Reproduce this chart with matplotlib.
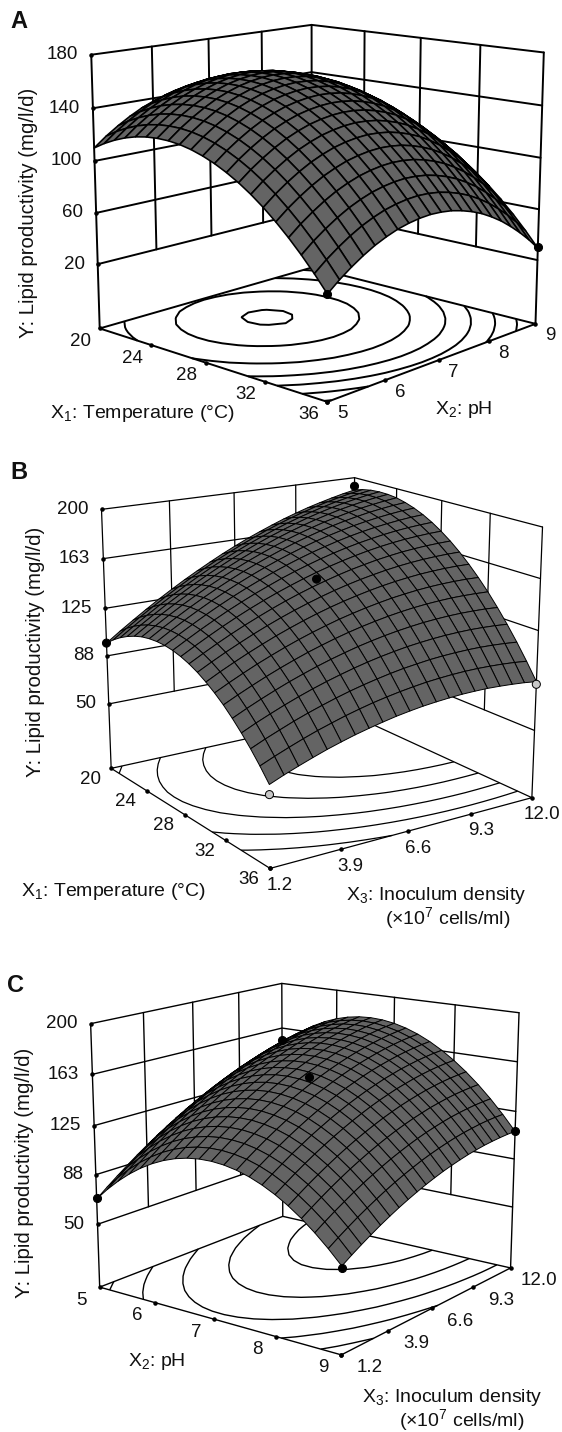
import numpy as np
import matplotlib
matplotlib.use("Agg")
import matplotlib.pyplot as plt
from mpl_toolkits.mplot3d import proj3d

plt.rcParams['font.family'] = ['Liberation Sans', 'DejaVu Sans']
plt.rcParams['mathtext.fontset'] = 'custom'
plt.rcParams['mathtext.rm'] = 'Liberation Sans'
plt.rcParams['mathtext.default'] = 'regular'

W, H = 562, 1432

temperature = np.linspace(20, 36, 21)
ph = np.linspace(5, 9, 21)
inoculum = np.linspace(1.2, 12, 21)

# superficie A: filas = pH, columnas = temperatura
z_a = [
    [109.9,114.9,119.0,122.3,124.7,126.2,126.8,126.6,125.5,123.5,120.6,116.9,112.3,106.9,100.6,93.4,85.3,76.4,66.6,55.9,44.3],
    [117.2,122.2,126.3,129.6,132.0,133.5,134.1,133.9,132.8,130.8,127.9,124.2,119.6,114.2,107.9,100.7,92.6,83.7,73.9,63.2,51.6],
    [123.5,128.5,132.6,135.9,138.3,139.8,140.4,140.2,139.1,137.1,134.2,130.5,125.9,120.5,114.2,107.0,98.9,90.0,80.2,69.5,57.9],
    [129.1,134.1,138.2,141.5,143.9,145.4,146.0,145.8,144.7,142.7,139.8,136.1,131.5,126.1,119.8,112.6,104.5,95.6,85.8,75.1,63.5],
    [133.9,138.9,143.0,146.3,148.7,150.2,150.8,150.6,149.5,147.5,144.6,140.9,136.3,130.9,124.6,117.4,109.3,100.4,90.6,79.9,68.3],
    [137.7,142.7,146.8,150.1,152.5,154.0,154.6,154.4,153.3,151.3,148.4,144.7,140.1,134.7,128.4,121.2,113.1,104.2,94.4,83.7,72.1],
    [140.8,145.8,149.9,153.2,155.6,157.1,157.7,157.5,156.4,154.4,151.5,147.8,143.2,137.8,131.5,124.3,116.2,107.3,97.5,86.8,75.2],
    [142.9,147.9,152.0,155.3,157.7,159.2,159.8,159.6,158.5,156.5,153.6,149.9,145.3,139.9,133.6,126.4,118.3,109.4,99.6,88.9,77.3],
    [144.3,149.3,153.4,156.7,159.1,160.6,161.2,161.0,159.9,157.9,155.0,151.3,146.7,141.3,135.0,127.8,119.7,110.8,101.0,90.3,78.7],
    [144.9,149.9,154.0,157.3,159.7,161.2,161.8,161.6,160.5,158.5,155.6,151.9,147.3,141.9,135.6,128.4,120.3,111.4,101.6,90.9,79.3],
    [144.5,149.5,153.6,156.9,159.3,160.8,161.4,161.2,160.1,158.1,155.2,151.5,146.9,141.5,135.2,128.0,119.9,111.0,101.2,90.5,78.9],
    [143.4,148.4,152.5,155.8,158.2,159.7,160.3,160.1,159.0,157.0,154.1,150.4,145.8,140.4,134.1,126.9,118.8,109.9,100.1,89.4,77.8],
    [141.3,146.3,150.4,153.7,156.1,157.6,158.2,158.0,156.9,154.9,152.0,148.3,143.7,138.3,132.0,124.8,116.7,107.8,98.0,87.3,75.7],
    [138.5,143.5,147.6,150.9,153.3,154.8,155.4,155.2,154.1,152.1,149.2,145.5,140.9,135.5,129.2,122.0,113.9,105.0,95.2,84.5,72.9],
    [134.9,139.9,144.0,147.3,149.7,151.2,151.8,151.6,150.5,148.5,145.6,141.9,137.3,131.9,125.6,118.4,110.3,101.4,91.6,80.9,69.3],
    [130.3,135.3,139.4,142.7,145.1,146.6,147.2,147.0,145.9,143.9,141.0,137.3,132.7,127.3,121.0,113.8,105.7,96.8,87.0,76.3,64.7],
    [125.0,130.0,134.1,137.4,139.8,141.3,141.9,141.7,140.6,138.6,135.7,132.0,127.4,122.0,115.7,108.5,100.4,91.5,81.7,71.0,59.4],
    [118.7,123.7,127.8,131.1,133.5,135.0,135.6,135.4,134.3,132.3,129.4,125.7,121.1,115.7,109.4,102.2,94.1,85.2,75.4,64.7,53.1],
    [111.7,116.7,120.8,124.1,126.5,128.0,128.6,128.4,127.3,125.3,122.4,118.7,114.1,108.7,102.4,95.2,87.1,78.2,68.4,57.7,46.1],
    [103.9,108.9,113.0,116.3,118.7,120.2,120.8,120.6,119.5,117.5,114.6,110.9,106.3,100.9,94.6,87.4,79.3,70.4,60.6,49.9,38.3],
    [95.1,100.1,104.2,107.5,109.9,111.4,112.0,111.8,110.7,108.7,105.8,102.1,97.5,92.1,85.8,78.6,70.5,61.6,51.8,41.1,29.5],
]

# superficie B: filas = inoculo, columnas = temperatura
z_b = [
    [98.0,103.2,107.6,111.2,114.1,116.3,117.6,118.2,118.1,117.2,115.5,113.1,109.9,105.9,101.2,95.8,89.5,82.5,74.8,66.3,57.0],
    [105.3,110.3,114.5,118.0,120.8,122.7,124.0,124.4,124.1,123.0,121.2,118.6,115.3,111.2,106.3,100.7,94.3,87.2,79.3,70.6,61.2],
    [112.2,117.1,121.2,124.5,127.1,128.9,130.0,130.3,129.8,128.6,126.6,123.9,120.4,116.1,111.1,105.3,98.8,91.5,83.4,74.6,65.0],
    [118.9,123.6,127.6,130.8,133.2,134.9,135.8,135.9,135.3,133.9,131.8,128.9,125.2,120.8,115.7,109.7,103.0,95.6,87.4,78.4,68.6],
    [125.4,129.9,133.7,136.7,139.0,140.5,141.3,141.3,140.5,139.0,136.7,133.6,129.8,125.2,119.9,113.8,107.0,99.4,91.0,81.9,72.0],
    [131.5,135.9,139.5,142.4,144.5,145.9,146.5,146.3,145.4,143.7,141.3,138.0,134.1,129.4,123.9,117.6,110.6,102.9,94.3,85.0,75.0],
    [137.4,141.6,145.1,147.8,149.8,151.0,151.4,151.1,150.0,148.2,145.6,142.2,138.1,133.2,127.6,121.2,114.0,106.1,97.4,88.0,77.8],
    [142.9,147.0,150.4,152.9,154.7,155.8,156.1,155.6,154.3,152.3,149.6,146.1,141.8,136.8,131.0,124.4,117.1,109.0,100.2,90.6,80.2],
    [148.2,152.2,155.3,157.8,159.4,160.3,160.4,159.8,158.4,156.3,153.3,149.7,145.2,140.1,134.1,127.4,119.9,111.7,102.7,93.0,82.4],
    [153.3,157.0,160.1,162.3,163.8,164.5,164.5,163.7,162.2,159.9,156.8,153.0,148.4,143.1,137.0,130.1,122.5,114.1,104.9,95.0,84.4],
    [158.0,161.6,164.5,166.6,167.9,168.5,168.3,167.4,165.7,163.2,160.0,156.0,151.3,145.8,139.5,132.5,124.7,116.2,106.9,96.8,86.0],
    [162.5,165.9,168.6,170.6,171.8,172.2,171.9,170.8,168.9,166.3,162.9,158.8,153.9,148.2,141.8,134.6,126.7,118.0,108.6,98.3,87.4],
    [166.6,170.0,172.5,174.3,175.3,175.6,175.1,173.9,171.8,169.1,165.5,161.3,156.2,150.4,143.8,136.5,128.4,119.6,109.9,99.6,88.4],
    [170.5,173.7,176.1,177.7,178.6,178.7,178.1,176.7,174.5,171.6,167.9,163.4,158.2,152.3,145.6,138.1,129.8,120.8,111.1,100.5,89.2],
    [174.2,177.2,179.4,180.9,181.6,181.6,180.8,179.2,176.9,173.8,170.0,165.4,160.0,153.9,147.0,139.4,131.0,121.8,111.9,101.2,89.8],
    [177.5,180.3,182.4,183.8,184.3,184.1,183.2,181.5,179.0,175.7,171.8,167.0,161.5,155.2,148.2,140.4,131.8,122.5,112.4,101.6,90.0],
    [180.6,183.3,185.2,186.4,186.8,186.4,185.3,183.4,180.8,177.4,173.3,168.4,162.7,156.3,149.1,141.1,132.4,122.9,112.7,101.7,90.0],
    [183.3,185.9,187.7,188.7,188.9,188.4,187.2,185.1,182.3,178.8,174.5,169.4,163.6,157.0,149.7,141.6,132.7,123.1,112.7,101.5,89.6],
    [185.8,188.2,189.8,190.7,190.8,190.1,188.7,186.5,183.6,179.9,175.4,170.2,164.2,157.5,150.0,141.7,132.7,122.9,112.4,101.1,89.0],
    [188.1,190.3,191.8,192.5,192.4,191.6,190.0,187.7,184.6,180.7,176.1,170.7,164.6,157.7,150.1,141.6,132.5,122.5,111.8,100.4,88.2],
    [190.0,192.1,193.4,193.9,193.7,192.8,191.0,188.5,185.3,181.3,176.5,171.0,164.7,157.6,149.8,141.3,131.9,121.8,111.0,99.4,87.0],
]

# superficie C: filas = inoculo, columnas = pH
z_c = [
    [69.5,78.7,86.9,94.1,100.3,105.5,109.7,112.9,115.1,116.3,116.5,115.7,113.9,111.1,107.3,102.5,96.7,89.9,82.1,73.3,63.5],
    [75.8,84.9,93.0,100.1,106.2,111.4,115.5,118.6,120.7,121.8,121.9,121.0,119.2,116.3,112.4,107.5,101.6,94.7,86.9,78.0,68.1],
    [81.8,90.9,98.9,105.9,111.9,117.0,121.0,124.0,126.1,127.1,127.1,126.2,124.2,121.2,117.2,112.3,106.3,99.3,91.4,82.4,72.4],
    [87.6,96.6,104.5,111.5,117.4,122.4,126.3,129.2,131.2,132.1,132.1,131.0,129.0,125.9,121.9,116.8,110.7,103.7,95.6,86.6,76.5],
    [93.2,102.0,109.9,116.8,122.6,127.5,131.3,134.2,136.1,136.9,136.8,135.6,133.5,130.4,126.2,121.1,114.9,107.8,99.7,90.5,80.4],
    [98.5,107.3,115.1,121.8,127.6,132.4,136.2,138.9,140.7,141.5,141.3,140.0,137.8,134.6,130.4,125.1,118.9,111.7,103.5,94.2,84.0],
    [103.6,112.3,120.0,126.7,132.3,137.0,140.7,143.4,145.1,145.8,145.5,144.2,141.9,138.6,134.2,128.9,122.6,115.3,107.0,97.7,87.4],
    [108.4,117.0,124.6,131.2,136.8,141.5,145.1,147.7,149.3,149.9,149.5,148.1,145.7,142.3,137.9,132.5,126.1,118.7,110.3,100.9,90.5],
    [113.0,121.5,129.1,135.6,141.1,145.6,149.1,151.7,153.2,153.7,153.2,151.7,149.3,145.8,141.3,135.8,129.3,121.9,113.4,103.9,93.4],
    [117.4,125.8,133.3,139.7,145.1,149.6,153.0,155.4,156.9,157.3,156.7,155.2,152.6,149.0,144.5,138.9,132.3,124.8,116.2,106.6,96.1],
    [121.5,129.9,137.2,143.6,148.9,153.3,156.6,159.0,160.3,160.7,160.0,158.4,155.7,152.1,147.4,141.8,135.1,127.5,118.8,109.2,98.5],
    [125.4,133.7,140.9,147.2,152.4,156.7,160.0,162.2,163.5,163.8,163.0,161.3,158.6,154.8,150.1,144.4,137.6,129.9,121.2,111.4,100.7],
    [129.0,137.2,144.4,150.6,155.7,159.9,163.1,165.3,166.5,166.6,165.8,164.0,161.2,157.4,152.5,146.7,139.9,132.1,123.3,113.4,102.6],
    [132.4,140.5,147.6,153.7,158.8,162.9,166.0,168.1,169.2,169.3,168.4,166.5,163.6,159.7,154.8,148.9,141.9,134.0,125.1,115.2,104.3],
    [135.6,143.6,150.6,156.6,161.6,165.6,168.6,170.7,171.7,171.7,170.7,168.7,165.7,161.7,156.7,150.7,143.7,135.8,126.8,116.8,105.8],
    [138.5,146.4,153.4,159.3,164.2,168.1,171.1,173.0,173.9,173.8,172.8,170.7,167.6,163.5,158.5,152.4,145.3,137.2,128.2,118.1,107.0],
    [141.2,149.0,155.9,161.7,166.5,170.4,173.2,175.1,175.9,175.7,174.6,172.4,169.3,165.1,159.9,153.8,146.6,138.5,129.3,119.1,108.0],
    [143.6,151.4,158.1,163.9,168.6,172.4,175.2,176.9,177.7,177.4,176.2,173.9,170.7,166.4,161.2,155.0,147.7,139.5,130.2,120.0,108.7],
    [145.8,153.5,160.2,165.8,170.5,174.2,176.8,178.5,179.2,178.9,177.5,175.2,171.9,167.5,162.2,155.9,148.5,140.2,130.9,120.6,109.2],
    [147.8,155.4,162.0,167.5,172.1,175.7,178.3,179.9,180.5,180.1,178.6,176.2,172.8,168.4,163.0,156.6,149.1,140.7,131.3,120.9,109.5],
    [149.5,157.0,163.5,169.0,173.5,177.0,179.5,181.0,181.5,181.0,179.5,177.0,173.5,169.0,163.5,157.0,149.5,141.0,131.5,121.0,109.5],
]

levels_a = [47, 66, 85, 103, 124, 146, 160.5]
levels_b = [84, 104, 124, 145, 165]
levels_c = [78, 100, 122, 144, 166]

ticks_temp = [20, 24, 28, 32, 36]
ticks_ph = [5, 6, 7, 8, 9]
ticks_inoc = [1.2, 3.9, 6.6, 9.3, 12.0]
labels_inoc = ['1.2', '3.9', '6.6', '9.3', '12.0']
ticks_za = [20, 60, 100, 140, 180]
ticks_zbc = [50, 88, 125, 163, 200]

# puntos experimentales
pts_a = ([36, 36], [5, 9], [44, 30])
pts_b = ([20, 20, 28, 36, 36], [1.2, 12, 6.6, 1.2, 12], [98, 193, 155, 50, 85])
pts_c = ([5, 5, 7, 9, 9], [1.2, 12, 6.6, 1.2, 12], [70, 153, 156, 62, 110])
pts_b_fill = ['black', 'black', 'black', '#c8c8c8', '#c8c8c8']

fig = plt.figure(figsize=(W / 100, H / 100), dpi=100, facecolor='white')


def ftext(px, py, s, **kw):
    fig.text(px / W, 1 - py / H, s, ha=kw.pop('ha', 'center'), va=kw.pop('va', 'center'),
             fontsize=kw.pop('fontsize', 14), color='#111111', **kw)


def panel(cx, cy, side, zoom, elev, azim, zasp, focal, xs, ys, zs, zlim, xt, yt, zt, levels, pts,
          lw=1.0, mesh=0.7, fills=None, xoff=(-19, -13), yoff=(15, -12), zoff=-13, xlab=None, ylab=None):
    ax = fig.add_axes([(cx - side / 2) / W, 1 - (cy + side / 2) / H, side / W, side / H],
                      projection='3d', computed_zorder=False)
    ax.patch.set_alpha(0)
    ax.set_proj_type('persp', focal_length=focal)
    ax.view_init(elev=elev, azim=azim)
    ax.set_box_aspect((1, 1, zasp), zoom=zoom)
    ax.set_xlim(xs[0], xs[-1], view_margin=0)
    ax.set_ylim(ys[0], ys[-1], view_margin=0)
    ax.set_zlim(zlim[0], zlim[1], view_margin=0)
    ax.set_axis_off()

    x0, x1, y0, y1 = xs[0], xs[-1], ys[0], ys[-1]
    z0, z1 = zlim
    kw = dict(color='black', lw=lw, zorder=1, solid_capstyle='round')

    # paredes del fondo
    for z in zt:
        ax.plot([x0, x0, x1], [y0, y1, y1], [z, z, z], **kw)
    for t in xt[1:-1]:
        ax.plot([t, t], [y1, y1], [zt[0], zt[-1]], **kw)
    for t in yt[1:-1]:
        ax.plot([x0, x0], [t, t], [zt[0], zt[-1]], **kw)
    ax.plot([x0, x0], [y0, y0], [z0, z1], **kw)
    ax.plot([x0, x0], [y1, y1], [z0, z1], **kw)
    ax.plot([x1, x1], [y1, y1], [z0, z1], **kw)
    # borde del piso
    ax.plot([x0, x1, x1, x0, x0], [y0, y0, y1, y1, y0], [z0] * 5, **kw)

    X, Y = np.meshgrid(xs, ys)
    Z = np.array(zs)
    ax.contour(X, Y, Z, levels=levels, zdir='z', offset=z0, colors='black',
               linewidths=lw, zorder=2)
    ax.plot_surface(X, Y, Z, rstride=1, cstride=1, color='#646464', shade=False,
                    edgecolor='black', linewidth=mesh, antialiased=True, zorder=3)
    ax.scatter(pts[0], pts[1], pts[2], s=34, c=fills if fills else 'black', edgecolors='black',
               linewidths=0.7, depthshade=False, zorder=4)

    # marcas y etiquetas
    M = ax.get_proj()
    ax.scatter(xt, [y0] * 5, [z0] * 5, s=5, c='black', depthshade=False, zorder=1)
    ax.scatter([x1] * 5, yt, [z0] * 5, s=5, c='black', depthshade=False, zorder=1)
    ax.scatter([x0] * 5, [y0] * 5, zt, s=5, c='black', depthshade=False, zorder=1)

    def lab(x, y, z, s, off, ha='center'):
        px, py, _ = proj3d.proj_transform(x, y, z, M)
        ax.annotate(s, xy=(px, py), xytext=off, textcoords='offset pixels', ha=ha, va='center',
                    fontsize=13.5, color='#111111', annotation_clip=False)

    for t, s in zip(xt, xlab or xt):
        lab(t, y0, z0, str(s), xoff)
    for t, s in zip(yt, ylab or yt):
        lab(x1, t, z0, str(s), yoff)
    for t in zt:
        lab(x0, y0, t, str(t), (zoff, 0), ha='right')
    return ax


panel(311, 200, 560, 0.91, 13, -47, 0.89, 0.55, temperature, ph, z_a, (-31, 180), ticks_temp, ticks_ph, ticks_za,
      levels_a, pts_a, lw=1.4, mesh=1.15)
panel(309, 661, 560, 0.898, 16.5, -34, 0.89, 0.55, temperature, inoculum, z_b, (-2, 200), ticks_temp, ticks_inoc, ticks_zbc,
      levels_b, pts_b, lw=0.9, fills=pts_b_fill, xoff=(-21, -11), yoff=(10, -17), ylab=labels_inoc)
panel(301, 1158, 560, 0.869, 15, -53, 0.896, 0.55, ph, inoculum, z_c, (1, 200), ticks_ph, ticks_inoc, ticks_zbc,
      levels_c, pts_c, lw=1.0, xoff=(-18, -13), yoff=(28, -13), ylab=labels_inoc)

ftext(19, 22, 'A', fontweight='bold', fontsize=17)
ftext(19, 472, 'B', fontweight='bold', fontsize=17)
ftext(16, 986, 'C', fontweight='bold', fontsize=17)

ylab = 'Y: Lipid productivity (mg/l/d)'
ftext(29, 213, ylab, rotation=90, fontsize=14.7)
ftext(36, 652, ylab, rotation=90, fontsize=14.7)
ftext(25, 1173, ylab, rotation=90, fontsize=14.7)

ftext(142, 413, r'X$_{1}$: Temperature (°C)')
ftext(464, 410, r'X$_{2}$: pH')
ftext(113, 892, r'X$_{1}$: Temperature (°C)')
ftext(436, 896, r'X$_{3}$: Inoculum density')
ftext(448, 918, r'(×10$^{7}$ cells/ml)')
ftext(157, 1362, r'X$_{2}$: pH')
ftext(452, 1398, r'X$_{3}$: Inoculum density')
ftext(462, 1420, r'(×10$^{7}$ cells/ml)')

fig.savefig('out.png', dpi=100)
